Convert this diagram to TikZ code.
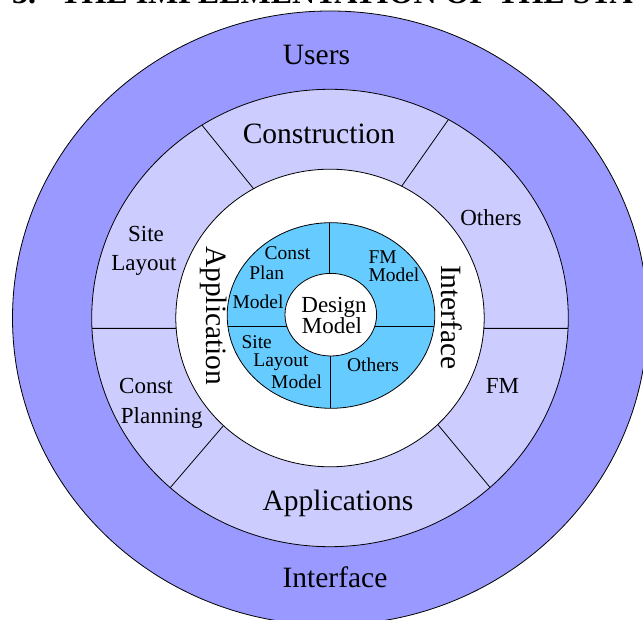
\documentclass[tikz,border=0pt]{standalone}
\usepackage{fontspec}
\setmainfont{Liberation Serif}
\definecolor{outerring}{HTML}{9999FF}
\definecolor{midring}{HTML}{CCCCFF}
\definecolor{modelring}{HTML}{66CCFF}
\newcommand{\bigfont}{\fontsize{29.5bp}{33bp}\selectfont}
\newcommand{\midfont}{\fontsize{23bp}{26bp}\selectfont}
\newcommand{\smallfont}{\fontsize{19.5bp}{22bp}\selectfont}

\begin{document}
\begin{tikzpicture}[x=1bp,y=1bp,
    ring/.style={draw=black,line width=0.8bp},
    divider/.style={draw=black,line width=0.8bp},
    biglabel/.style={font=\bigfont,inner sep=0pt,anchor=base},
    midlabel/.style={font=\midfont,inner sep=0pt,anchor=base},
    smalllabel/.style={font=\smallfont,inner sep=0pt,anchor=base}]
  \useasboundingbox (-330,-302) rectangle (313,318);
  \node[anchor=base west,inner sep=0pt,font=\bfseries\fontsize{32bp}{36bp}\selectfont]
    (title) at (-318,314) {3.\hspace{24bp}THE IMPLEMENTATION OF THE STA};
  % rings
  \filldraw[ring,fill=outerring] (0,0) ellipse [x radius=317.5,y radius=307];
  \filldraw[ring,fill=midring] (0,0) ellipse [x radius=238.3,y radius=228.7];
  \filldraw[ring,fill=white] (0,0) ellipse [x radius=154.2,y radius=148.8];
  \filldraw[ring,fill=modelring] (1,2.5) ellipse [x radius=103.8,y radius=92.8];
  \filldraw[ring,fill=white] (0.8,3.3) ellipse [x radius=45.8,y radius=41.3];
  % dividers of the middle ring
  \draw[divider] (122.5:238.3 and 228.7) -- (119.7:154.2 and 148.8);
  \draw[divider] (60.2:238.3 and 228.7) -- (62.3:154.2 and 148.8);
  \draw[divider] (182.6:238.3 and 228.7) -- (184:154.2 and 148.8);
  \draw[divider] (-2.6:238.3 and 228.7) -- (-4:154.2 and 148.8);
  \draw[divider] (227.9:238.3 and 228.7) -- (226.3:154.2 and 148.8);
  \draw[divider] (-47.8:238.3 and 228.7) -- (-45.7:154.2 and 148.8);
  % dividers of the model ring
  \draw[divider] (-102.1,-8) -- (-43.2,-8);
  \draw[divider] (44.9,-8) -- (104.1,-8);
  \draw[divider] (-0.7,95.3) -- (-0.7,44.6);
  \draw[divider] (0,-38) -- (0,-90.3);
  % labels
  \node[biglabel] (users) at (-13.5,253) {Users};
  \node[biglabel] (construction) at (-11,174.7) {Construction};
  \node[biglabel] (applications) at (8,-192) {Applications};
  \node[biglabel] (interface) at (5,-269.5) {Interface};
  \node[midlabel] (site) at (-184,76.3) {Site};
  \node[midlabel] (layout) at (-186,47.3) {Layout};
  \node[midlabel,anchor=base west] (const) at (-211,-75.3) {Const};
  \node[midlabel,anchor=base west] (planning) at (-209.3,-105.3) {Planning};
  \node[midlabel] (others) at (161,92) {Others};
  \node[midlabel] (fm) at (172.5,-75.3) {FM};
  \node[biglabel,rotate=-90] (application) at (-123.5,2.2) {Application};
  \node[biglabel,rotate=-90] (interfacev) at (111.7,0.5) {Interface};
  \node[smalllabel] (cpconst) at (-42.5,58.7) {Const};
  \node[smalllabel] (cpplan) at (-63.3,38) {Plan};
  \node[smalllabel] (cpmodel) at (-72,9.7) {Model};
  \node[smalllabel,anchor=base west] (fmfm) at (38.3,54.5) {FM};
  \node[smalllabel,anchor=base west] (fmmodel) at (38.3,36.3) {Model};
  \node[midlabel] (design) at (4,5.3) {Design};
  \node[midlabel] (designmodel) at (2,-15.3) {Model};
  \node[smalllabel] (slsite) at (-73.3,-30.3) {Site};
  \node[smalllabel] (sllayout) at (-49,-48.7) {Layout};
  \node[smalllabel] (slmodel) at (-33.3,-70.3) {Model};
  \node[smalllabel] (innerothers) at (43,-53.7) {Others};
\end{tikzpicture}
\end{document}
